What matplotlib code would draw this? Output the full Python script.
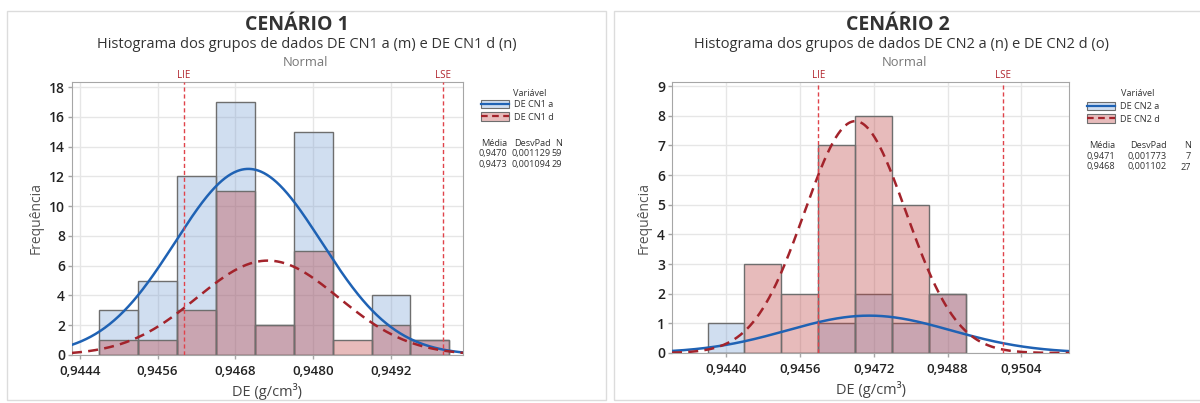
import numpy as np
import matplotlib
matplotlib.use("Agg")
import matplotlib.pyplot as plt
from matplotlib.patches import Rectangle, Patch
from matplotlib.lines import Line2D
from matplotlib.legend_handler import HandlerTuple
from matplotlib.ticker import FuncFormatter, MultipleLocator

plt.rcParams['font.family'] = ['Open Sans', 'DejaVu Sans']

# Cenário 1: bins of 0.0006 starting at 0.9447
cn1_bin_start = 0.9447
cn1_bin_width = 0.0006
cn1a_counts = [3, 5, 12, 17, 2, 15, 0, 4, 1]
cn1d_counts = [1, 1, 3, 11, 2, 7, 1, 2, 1]
cn1_labels = ["DE CN1 a", "DE CN1 d"]
cn1_mean = [0.9470, 0.9473]
cn1_sd = [0.001129, 0.001094]
cn1_n = [59, 29]

# Cenário 2: bins of 0.0008 starting at 0.9436
cn2_bin_start = 0.9436
cn2_bin_width = 0.0008
cn2a_counts = [1, 0, 0, 1, 2, 1, 2]
cn2d_counts = [0, 3, 2, 7, 8, 5, 2]
cn2_labels = ["DE CN2 a", "DE CN2 d"]
cn2_mean = [0.9471, 0.9468]
cn2_sd = [0.001773, 0.001102]
cn2_n = [7, 27]

lie, lse = 0.9460, 0.9500

W, H = 1200, 403
fig = plt.figure(figsize=(W / 100, H / 100), dpi=100)

BLUE_FILL = (0.475, 0.63, 0.83, 0.35)
RED_FILL = (0.74, 0.24, 0.24, 0.35)
EDGE = "#6e6e6e"
BLUE_LINE = "#1f62b4"
RED_LINE = "#a3232b"
SPEC = "#e0434b"
GRID = "#e6e6e6"
FRAME = "#a6a6a6"
TXT = "#333333"
LEG_FS = 6.6


def px_box(x0, y0, x1, y1):
    return [x0 / W, 1 - y1 / H, (x1 - x0) / W, (y1 - y0) / H]


def fy(y):
    return 1 - y / H


def comma(v, pos):
    return f"{v:.4f}".replace(".", ",")


def panel(box, bin_start, bw, counts_a, counts_d, mean, sd, n, labels,
          xlim, ylim, xticks, ystep, titles, title_x, leg_x, leg_y,
          var_xy, stats_cols, stats_y):
    ax = fig.add_axes(px_box(*box))
    centers_a = bin_start + bw * (np.arange(len(counts_a)) + 0.5)
    centers_d = bin_start + bw * (np.arange(len(counts_d)) + 0.5)
    ax.bar(centers_a, counts_a, width=bw, color=BLUE_FILL, edgecolor=EDGE,
           linewidth=1, zorder=2)
    ax.bar(centers_d, counts_d, width=bw, color=RED_FILL, edgecolor=EDGE,
           linewidth=1, zorder=2)

    # fitted normal curves scaled to counts
    x = np.linspace(xlim[0], xlim[1], 500)
    for m, s, k, col, ls in zip(mean, sd, n, [BLUE_LINE, RED_LINE],
                                ["-", (0, (4, 2.5))]):
        y = k * bw / (s * np.sqrt(2 * np.pi)) * np.exp(-0.5 * ((x - m) / s) ** 2)
        ax.plot(x, y, color=col, lw=1.8, ls=ls, zorder=3)

    for v, name in [(lie, "LIE"), (lse, "LSE")]:
        ax.axvline(v, color=SPEC, lw=1, ls=(0, (3, 2)), zorder=4)
        ax.annotate(name, (v, 1), xycoords=("data", "axes fraction"),
                    xytext=(0, 0.8), textcoords="offset points",
                    ha="center", va="bottom", fontsize=7, color="#b1242c")

    ax.set_xlim(*xlim)
    ax.set_ylim(*ylim)
    ax.set_xticks(xticks)
    ax.xaxis.set_major_formatter(FuncFormatter(comma))
    ax.yaxis.set_major_locator(MultipleLocator(ystep))
    ax.grid(True, color=GRID, lw=1, zorder=0)
    ax.set_axisbelow(True)
    for sp in ax.spines.values():
        sp.set_color(FRAME)
    ax.tick_params(axis="both", colors=FRAME, length=3, width=1,
                   labelcolor="#222222")
    ax.tick_params(axis="y", labelsize=10, pad=2)
    ax.tick_params(axis="x", labelsize=9.5, pad=4)
    for t in ax.get_xticklabels() + ax.get_yticklabels():
        t.set_fontweight("semibold")
    ax.set_ylabel("Frequência", fontsize=10, color="#555555", labelpad=4)
    ax.set_xlabel("DE (g/cm³)", fontsize=10.5, color="#444444", labelpad=4)

    fig.text(title_x[0] / W, fy(25), titles[0], ha="center", va="center",
             fontsize=14, fontweight="bold", color=TXT)
    fig.text(title_x[1] / W, fy(45), titles[1], ha="center", va="center",
             fontsize=10.5, color=TXT)
    fig.text(title_x[2] / W, fy(62), titles[2], ha="center", va="center",
             fontsize=9.3, color="#777777")

    handles = [
        (Patch(facecolor=BLUE_FILL, edgecolor=EDGE, lw=0.8),
         Line2D([], [], color=BLUE_LINE, lw=1.6)),
        (Patch(facecolor=RED_FILL, edgecolor=EDGE, lw=0.8),
         Line2D([], [], color=RED_LINE, lw=1.6, ls=(0, (3, 2)))),
    ]
    leg = fig.legend(handles, labels, handler_map={tuple: HandlerTuple(ndivide=1)},
                     loc="upper left", bbox_to_anchor=(leg_x / W, fy(leg_y)),
                     frameon=False, fontsize=LEG_FS, handlelength=3.1,
                     handleheight=1.0, handletextpad=0.55, labelspacing=0.35,
                     borderpad=0, borderaxespad=0)
    for t in leg.get_texts():
        t.set_color(TXT)
    fig.text(var_xy[0] / W, fy(var_xy[1]), "Variável", ha="center",
             va="center", fontsize=LEG_FS, color=TXT)

    header = ["Média", "DesvPad", "N"]
    rows = [header] + [[f"{m:.4f}".replace(".", ","),
                        f"{s:.6f}".replace(".", ","), f"{k}"]
                       for m, s, k in zip(mean, sd, n)]
    for r, row in enumerate(rows):
        for cx, txt in zip(stats_cols, row):
            fig.text(cx / W, fy(stats_y + r * 10.5), txt, ha="right",
                     va="center", fontsize=LEG_FS, color=TXT)
    return ax


# outer frames around each scenario
for x0, x1 in [(7, 606), (614, 1210)]:
    fig.add_artist(Rectangle((x0 / W, fy(400)), (x1 - x0) / W, 389 / H,
                             transform=fig.transFigure, fill=False,
                             edgecolor="#dcdcdc", lw=1))

panel((72, 82, 463, 355), cn1_bin_start, cn1_bin_width, cn1a_counts,
      cn1d_counts, cn1_mean, cn1_sd, cn1_n, cn1_labels,
      (0.94428, 0.95031), (0, 18.35), [0.9444, 0.9456, 0.9468, 0.9480, 0.9492], 2,
      ("CENÁRIO 1", "Histograma dos grupos de dados DE CN1 a (m) e DE CN1 d (n)",
       "Normal"), (297, 307, 305),
      481, 100, (530, 93), (507, 551, 562), 143)

panel((672, 82, 1069, 353), cn2_bin_start, cn2_bin_width, cn2a_counts,
      cn2d_counts, cn2_mean, cn2_sd, cn2_n, cn2_labels,
      (0.94283, 0.95143), (0, 9.14), [0.9440, 0.9456, 0.9472, 0.9488, 0.9504], 1,
      ("CENÁRIO 2", "Histograma dos grupos de dados DE CN2 a (n) e DE CN2 d (o)",
       "Normal"), (898, 901, 904),
      1087, 102, (1138, 94), (1115, 1167, 1191), 146)

fig.savefig("out.png", dpi=100)
